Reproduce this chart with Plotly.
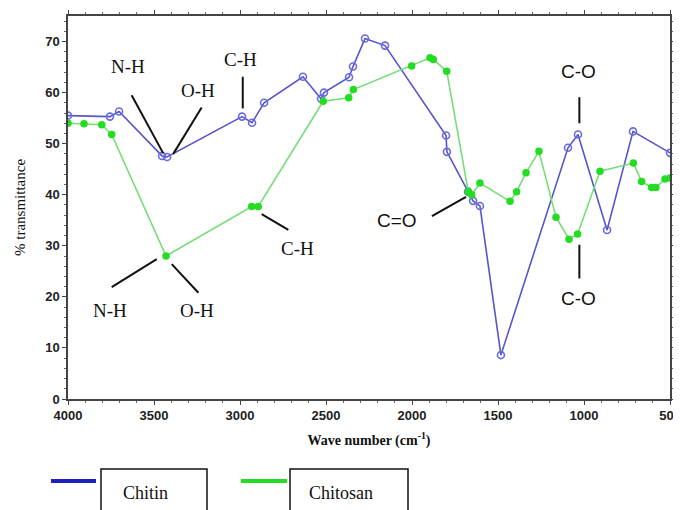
import plotly.graph_objects as go

# Chitin FTIR spectrum (wavenumber cm-1, % transmittance)
chitin_wn = [4000, 3756, 3703, 3453, 3424, 2988, 2930, 2860, 2634, 2529, 2512, 2366, 2343, 2273, 2157,
             1802, 1797, 1674, 1645, 1605, 1483, 1093, 1035, 866, 715, 500]
chitin_t = [55.5, 55.3, 56.3, 47.6, 47.4, 55.3, 54.1, 58.0, 63.1, 58.8, 60.0, 63.0, 65.1, 70.6, 69.2,
            51.6, 48.4, 40.6, 38.8, 37.8, 8.6, 49.2, 51.8, 33.1, 52.4, 48.2]

# Chitosan FTIR spectrum
chitosan_wn = [4000, 3907, 3804, 3746, 3430, 2932, 2894, 2516, 2368, 2341, 2002, 1895, 1876, 1798,
               1673, 1653, 1605, 1430, 1392, 1337, 1262, 1163, 1087, 1037, 907, 713, 665, 607, 582, 529, 500]
chitosan_t = [54.0, 53.9, 53.7, 51.8, 28.0, 37.7, 37.7, 58.3, 59.0, 60.6, 65.2, 66.8, 66.5, 64.2,
              40.6, 40.0, 42.3, 38.7, 40.6, 44.3, 48.5, 35.6, 31.3, 32.3, 44.6, 46.2, 42.6, 41.4, 41.4, 43.1, 43.3]

x_ticks = [4000, 3500, 3000, 2500, 2000, 1500, 1000, 500]
y_ticks = [0, 10, 20, 30, 40, 50, 60, 70]

# band labels: (text, x, y, font family)
labels = [
    ("N-H", 3651, 65.1, "Liberation Serif"),
    ("O-H", 3244, 60.5, "Liberation Serif"),
    ("C-H", 3000, 66.5, "Liberation Serif"),
    ("C-O", 1033, 64.2, "Liberation Sans"),
    ("N-H", 3756, 17.4, "Liberation Serif"),
    ("O-H", 3252, 17.4, "Liberation Serif"),
    ("C-H", 2667, 29.5, "Liberation Serif"),
    ("C=O", 2089, 35.0, "Liberation Sans"),
    ("C-O", 1033, 19.7, "Liberation Sans"),
]
# leader lines: (x0, y0, x1, y1)
leaders = [
    (3630, 59.5, 3446, 48.1),
    (3223, 57.1, 3388, 48.0),
    (2984, 63.1, 2984, 56.9),
    (1027, 59.1, 1027, 54.0),
    (3746, 21.9, 3484, 27.4),
    (3397, 26.4, 3242, 20.8),
    (2874, 36.2, 2719, 33.1),
    (1884, 35.8, 1686, 39.6),
    (1027, 30.2, 1027, 23.6),
]

fig = go.Figure()
fig.add_trace(go.Scatter(
    x=chitin_wn, y=chitin_t, mode="lines+markers", name="Chitin",
    line=dict(color="#5656cc", width=1.6),
    marker=dict(symbol="circle-open", size=7, color="#6a6ae0", line=dict(width=1.6)),
))
fig.add_trace(go.Scatter(
    x=chitosan_wn, y=chitosan_t, mode="lines+markers", name="Chitosan",
    line=dict(color="#77dd77", width=1.6),
    marker=dict(symbol="circle", size=7.5, color="#22dd22"),
))

for text, x, y, fam in labels:
    fig.add_annotation(x=x, y=y, text=text, showarrow=False,
                       font=dict(family=fam, size=19, color="#111"))
for x0, y0, x1, y1 in leaders:
    fig.add_shape(type="line", x0=x0, y0=y0, x1=x1, y1=y1, xref="x", yref="y",
                  line=dict(color="#111", width=2))

# page has an 8px body margin; size the figure so the plot area lands where the reference has it
OFF = 8
W, H = 681 - OFF, 510 - OFF
PL, PR, PT, PB = 68, 670, 16, 399          # plot area in window pixels
L, R, T, B = PL - OFF, W + OFF - PR, PT - OFF, H + OFF - PB
pw, ph = PR - PL, PB - PT
def px(xp):
    return (xp - PL) / pw
def py(yp):
    return (PB - yp) / ph

fig.add_shape(type="line", xref="paper", yref="paper", x0=px(51), x1=px(96), y0=py(481), y1=py(481),
              line=dict(color="#2020c0", width=4))
fig.add_shape(type="rect", xref="paper", yref="paper", x0=px(101), x1=px(207), y0=py(469), y1=py(512),
              line=dict(color="#111", width=1.5))
fig.add_annotation(xref="paper", yref="paper", x=px(145), y=py(493), text="Chitin", showarrow=False,
                   xanchor="center", yanchor="middle",
                   font=dict(family="Liberation Serif", size=18, color="#111"))
fig.add_shape(type="line", xref="paper", yref="paper", x0=px(241), x1=px(287), y0=py(481), y1=py(481),
              line=dict(color="#22dd22", width=4))
fig.add_shape(type="rect", xref="paper", yref="paper", x0=px(290), x1=px(408), y0=py(469), y1=py(512),
              line=dict(color="#111", width=1.5))
fig.add_annotation(xref="paper", yref="paper", x=px(341), y=py(493), text="Chitosan", showarrow=False,
                   xanchor="center", yanchor="middle",
                   font=dict(family="Liberation Serif", size=18, color="#111"))

axis_common = dict(
    showline=True, linecolor="#444", linewidth=1.5, mirror="allticks",
    ticks="outside", ticklen=4, tickcolor="#444", tickwidth=1.2,
    showgrid=False, zeroline=False, automargin=False,
    tickfont=dict(family="Liberation Sans", size=13, color="#222", weight="bold"),
)
fig.update_xaxes(range=[4000, 500], tickvals=x_ticks,
                 minor=dict(dtick=100, ticks="outside", ticklen=2, tickcolor="#666"),
                 title=dict(text="Wave number (cm<sup>-1</sup>)", standoff=13,
                            font=dict(family="Liberation Serif", size=14, color="#111", weight="bold")),
                 **axis_common)
fig.update_yaxes(range=[0, 75], tickvals=y_ticks,
                 minor=dict(dtick=2, ticks="outside", ticklen=2, tickcolor="#666"),
                 title=dict(text="% transmittance", standoff=16,
                            font=dict(family="Liberation Serif", size=15, color="#111")),
                 **axis_common)

fig.update_layout(width=W, height=H, margin=dict(l=L, r=R, t=T, b=B),
                  paper_bgcolor="white", plot_bgcolor="white", showlegend=False)
fig.write_html("out.html")
